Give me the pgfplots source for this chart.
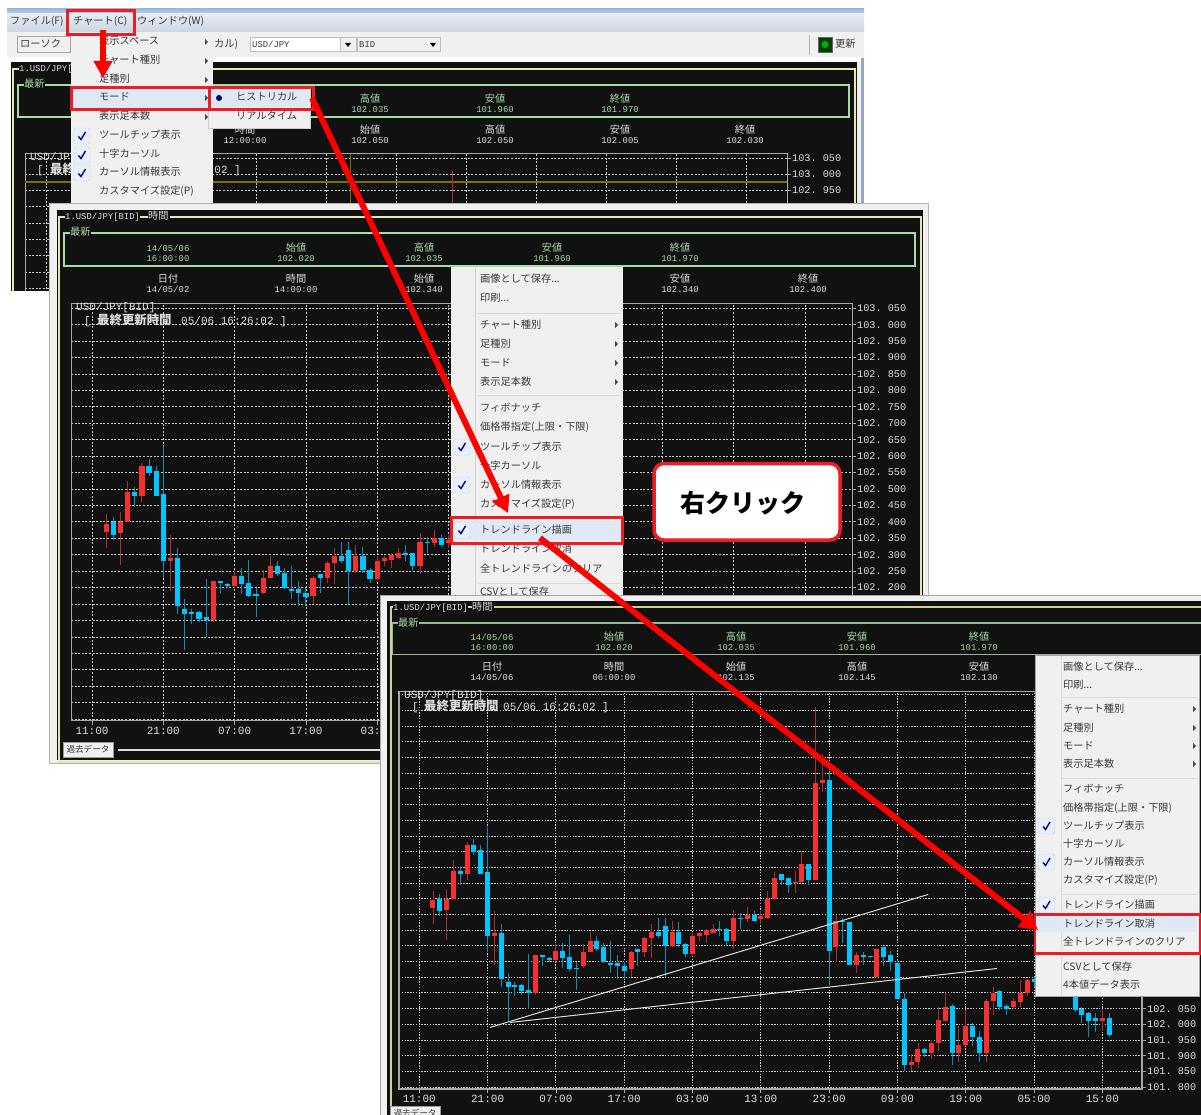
\documentclass[border=0pt]{standalone}
\usepackage{fontspec}
\usepackage{pgfplots}
\usepackage{pgfplotstable}
\pgfplotsset{compat=1.18}
\usetikzlibrary{arrows.meta}
\setmainfont{Liberation Sans}
\newfontfamily\jpfont{Noto Sans CJK JP}
\newfontfamily\monofont{Liberation Mono}
\newcommand{\jp}{\jpfont\fontsize{10.2}{12}\selectfont}
\newcommand{\jpb}{\jpfont\fontsize{12.4}{14}\selectfont\bfseries}
\newcommand{\jps}{\jpfont\fontsize{8.6}{10}\selectfont}
\newcommand{\dg}{\monofont\fontsize{8.9}{10}\selectfont}
\newcommand{\dgy}{\monofont\fontsize{10.2}{12}\selectfont}
\newcommand{\dgx}{\monofont\fontsize{11}{12}\selectfont}
\newcommand{\dd}{...}

\definecolor{bgk}{HTML}{111111}
\definecolor{chrome}{HTML}{F0F0F0}
\definecolor{palegreen}{HTML}{A6DCA6}
\definecolor{paleyel}{HTML}{E6E6B4}
\definecolor{txt}{HTML}{DDDDDD}
\definecolor{framec}{HTML}{A8A8A8}
\definecolor{gridc}{HTML}{C8C8C8}
\definecolor{cred}{HTML}{F5302F}
\definecolor{cblue}{HTML}{00C6FF}
\definecolor{wred}{HTML}{A83030}
\definecolor{wblue}{HTML}{0F8FB5}
\definecolor{boxred}{HTML}{EE1C25}
\definecolor{hilite}{HTML}{DFE9F6}
\definecolor{chkf}{HTML}{E8F0FB}
\definecolor{chkd}{HTML}{BFD3EE}
\definecolor{olive}{HTML}{7A7012}
\definecolor{titlea}{HTML}{9DBBD8}
\definecolor{titleb}{HTML}{E6ECF5}
\definecolor{titlec}{HTML}{CDD5E0}

% candles: hour index, high, body top, body bottom, low
\pgfplotstableread{
i hi top bot lo
0 102.425 102.395 102.37 102.32
2 102.43 102.40 102.365 102.27
3 102.525 102.49 102.40 102.40
5 102.58 102.57 102.48 102.46
9 102.36 102.29 102.28 102.19
15 102.22 102.22 102.10 102.095
18 102.255 102.235 102.205 102.20
22 102.255 102.23 102.185 102.18
23 102.295 102.265 102.23 102.23
29 102.235 102.23 102.175 102.15
31 102.28 102.275 102.23 102.215
32 102.32 102.295 102.275 102.21
35 102.33 102.295 102.25 102.245
38 102.295 102.28 102.225 102.22
39 102.295 102.29 102.28 102.265
40 102.305 102.30 102.285 102.26
41 102.32 102.305 102.29 102.29
44 102.365 102.34 102.265 102.24
46 102.375 102.35 102.335 102.325
48 102.36 102.345 102.335 102.32
49 102.425 102.40 102.34 102.335
50 102.485 102.465 102.40 102.40
53 102.49 102.455 102.45 102.42
54 102.55 102.51 102.455 102.455
56 103.01 102.77 102.46 102.46
57 102.86 102.78 102.77 102.74
59 102.35 102.33 102.245 102.20
62 102.23 102.22 102.19 102.165
65 102.24 102.24 102.15 102.15
70 101.905 101.88 101.87 101.85
71 101.94 101.92 101.88 101.86
73 101.95 101.94 101.91 101.89
74 102.055 102.015 101.94 101.915
75 102.10 102.055 102.01 102.01
77 101.995 101.935 101.91 101.88
78 102.045 101.995 101.935 101.93
81 102.08 102.075 101.91 101.88
82 102.12 102.10 102.075 102.03
85 102.085 102.075 102.055 102.05
86 102.14 102.10 102.07 102.055
87 102.145 102.14 102.10 102.09
98 102.05 102.02 102.01 101.98
}\redc
\pgfplotstableread{
i hi top bot lo
1 102.415 102.40 102.36 102.345
4 102.505 102.49 102.48 102.445
6 102.59 102.57 102.55 102.54
7 102.57 102.555 102.48 102.48
8 102.63 102.485 102.28 102.23
10 102.32 102.29 102.145 102.12
11 102.165 102.135 102.12 102.01
12 102.135 102.125 102.12 102.09
13 102.13 102.125 102.105 102.095
14 102.225 102.11 102.10 102.05
16 102.22 102.22 102.215 102.185
17 102.215 102.21 102.205 102.20
19 102.26 102.235 102.21 102.18
20 102.285 102.215 102.175 102.17
21 102.20 102.18 102.175 102.11
24 102.28 102.265 102.24 102.235
25 102.26 102.245 102.20 102.195
26 102.265 102.195 102.19 102.165
27 102.22 102.195 102.185 102.145
28 102.20 102.185 102.17 102.145
30 102.24 102.24 102.23 102.185
33 102.34 102.295 102.28 102.275
34 102.34 102.315 102.25 102.15
36 102.325 102.295 102.255 102.245
37 102.26 102.255 102.225 102.215
42 102.33 102.305 102.30 102.28
43 102.306 102.305 102.265 102.25
45 102.355 102.34 102.335 102.305
47 102.36 102.35 102.33 102.325
51 102.48 102.478 102.46 102.445
52 102.465 102.465 102.445 102.42
55 102.51 102.51 102.46 102.445
58 102.805 102.78 102.235 102.125
60 102.34 102.33 102.325 102.26
61 102.325 102.325 102.19 102.19
63 102.23 102.22 102.215 102.19
64 102.217 102.217 102.215 102.213
66 102.245 102.245 102.215 102.185
67 102.235 102.22 102.20 102.17
68 102.205 102.195 102.08 102.08
69 102.10 102.08 101.87 101.85
72 101.925 101.92 101.91 101.895
76 102.065 102.06 101.91 101.87
79 102.005 101.995 101.96 101.93
80 101.98 101.96 101.91 101.88
83 102.11 102.105 102.055 102.045
84 102.065 102.06 102.05 102.03
88 102.15 102.143 102.135 102.12
94 102.13 102.12 102.045 102.04
95 102.055 102.05 102.03 102.005
96 102.04 102.035 102.01 101.96
97 102.035 102.02 102.01 101.975
99 102.035 102.02 101.965 101.96
}\bluec

\pgfplotsset{
  chart/.style={
    scale only axis, clip=true, scaled ticks=false,
    axis line style={draw=framec,line width=1pt},
    grid=major,
    grid style={draw=gridc,line width=0.8pt,dash pattern=on 2pt off 1.6pt},
    xtick={-2,8,18,28,38,48,58,68,78,88,98},
    xticklabels={11:00,21:00,07:00,17:00,03:00,13:00,23:00,09:00,19:00,05:00,15:00},
    ytick={101.8,101.85,101.9,101.95,102,102.05,102.1,102.15,102.2,102.25,102.3,102.35,102.4,102.45,102.5,102.55,102.6,102.65,102.7,102.75,102.8,102.85,102.9,102.95,103,103.05},
    xtick pos=bottom, ytick pos=right, yticklabel pos=right,
    tick align=outside, major tick length=4pt,
    tick style={draw=framec,line width=0.8pt},
    yticklabel style={font=\dgy,text=txt,inner sep=1pt,
      /pgf/number format/.cd,fixed,fixed zerofill,precision=3,1000 sep={},dec sep={.\ },assume math mode=true},
    xticklabel style={font=\dgx,text=txt,inner sep=1pt,yshift=-1pt},
  },
}
\newcommand{\candles}[1]{%
  \addplot[draw=none,mark=none,forget plot,error bars/.cd,y dir=plus,y explicit,error mark=none,
    error bar style={draw=wred,line width=0.9pt}]
    table[x=i,y=lo,y error plus expr=\thisrow{hi}-\thisrow{lo}] {\redc};
  \addplot[draw=none,mark=none,forget plot,error bars/.cd,y dir=plus,y explicit,error mark=none,
    error bar style={draw=wblue,line width=0.9pt}]
    table[x=i,y=lo,y error plus expr=\thisrow{hi}-\thisrow{lo}] {\bluec};
  \addplot[draw=none,mark=none,forget plot,error bars/.cd,y dir=plus,y explicit,error mark=none,
    error bar style={draw=cred,line width=#1}]
    table[x=i,y=bot,y error plus expr=\thisrow{top}-\thisrow{bot}] {\redc};
  \addplot[draw=none,mark=none,forget plot,error bars/.cd,y dir=plus,y explicit,error mark=none,
    error bar style={draw=cblue,line width=#1}]
    table[x=i,y=bot,y error plus expr=\thisrow{top}-\thisrow{bot}] {\bluec};
}
\tikzset{
  mi/.style={anchor=west,inner sep=0pt,text height=8pt,text depth=2pt,font=\jp,text=black!78},
  hd/.style={anchor=center,inner sep=0pt,text height=7pt,text depth=2pt},
  lab/.style={anchor=west,inner sep=0pt,text height=8pt,text depth=2pt,text=txt},
  rbox/.style={draw=boxred,line width=3pt},
  bigarrow/.style={draw=red,fill=red,line width=6pt},
}
% header pair: centre x, y of first line, upper text, value, colour
\newcommand{\hdr}[5]{%
  \node[hd,text=#5] at (#1,#2) {#3};
  \node[hd,text=#5] at (#1,#2+10) {\dg #4};}
\newcommand{\sub}[2]{\fill[black!70] (#1,#2-3) -- (#1+3,#2) -- (#1,#2+3) -- cycle;}
\newcommand{\chk}[2]{%
  \draw[fill=chkf,draw=chkd,rounded corners=1.5pt] (#1-8,#2-8) rectangle (#1+8,#2+8);
  \draw[draw=blue!60!black,line width=1.4pt] (#1-3.5,#2+0.5) -- (#1-1,#2+3.5) -- (#1+3.5,#2-4);}

\begin{document}
\begin{tikzpicture}[x=1pt,y=-1pt]
\useasboundingbox (0,0) rectangle (1201,1115);
\clip (0,0) rectangle (1201,1115);
\fill[white] (0,0) rectangle (1201,1115);

% ---- window 1
\fill[chrome] (7,9) rectangle (864,291);
\shade[top color=titlea,bottom color=titlea!70!white] (7,9) rectangle (864,14);
\shade[top color=titleb,bottom color=titlec] (7,14) rectangle (864,32);
\fill[white] (7,57) rectangle (861,62);
\fill[white] (7,57) rectangle (11,291);
\fill[bgk] (11,62) rectangle (857,291);
\fill[titlea!70!gray] (861,58) rectangle (864,291);
\foreach \tx/\ty/\lb in {10/22/ファイル(F),73/22/チャート(C),137/22/ウィンドウ(W),214/45/カル),835/45/更新}
  {\node[mi] at (\tx,\ty) {\lb};}
\draw[black!35,fill=chrome] (17,36) rectangle (70,52);
\node[mi] at (20,45) {ローソク};
\draw[black!25,fill=white] (250,37) rectangle (340,51);
\draw[black!25,fill=chrome] (340,37) rectangle (356,51);
\draw[black!25,fill=chrome] (357,37) rectangle (440,51);
\node[mi,font=\dg] at (252,44.5) {USD/JPY};
\node[mi,font=\dg] at (359,44.5) {BID};
\fill[black] (345,43) -- (351,43) -- (348,47) -- cycle;
\fill[black] (430,43) -- (436,43) -- (433,47) -- cycle;
\draw[black!30] (809,35) -- (809,55);
\draw[black!60,fill=black!75!green] (818,37) rectangle (832,52);
\fill[green!70!black] (825,44.5) circle (3.5pt);
\draw[paleyel,line width=1.5pt] (13,69) rectangle (855,300);
\draw[palegreen,line width=1.5pt] (18,85) rectangle (849,117);
\node[lab,fill=bgk,font=\dg] at (19,69) {1.USD/JPY[BID]};
\node[lab,fill=bgk,font=\jp,text=palegreen] at (24,85) {最新};
\hdr{370}{100}{\jp 高値}{102.035}{palegreen}
\hdr{495}{100}{\jp 安値}{101.960}{palegreen}
\hdr{620}{100}{\jp 終値}{101.970}{palegreen}
\hdr{245}{131}{\jp 時間}{12:00:00}{txt}
\hdr{370}{131}{\jp 始値}{102.050}{txt}
\hdr{495}{131}{\jp 高値}{102.050}{txt}
\hdr{620}{131}{\jp 安値}{102.005}{txt}
\hdr{745}{131}{\jp 終値}{102.030}{txt}
\begin{axis}[chart,at={(25pt,-300pt)},anchor=south west,width=762pt,height=146pt,
  xmin=-5,xmax=103.86,ymin=102.614,ymax=103.062,xticklabels={},
  yticklabel={\ifdim\tick pt>102.92pt \pgfmathprintnumber{\tick}\fi}]
\addplot[olive,line width=1.4pt,forget plot] coordinates {(-5,102.976) (103.86,102.976)};
\addplot[olive,line width=1.4pt,forget plot] coordinates {(41.5,102.6) (41.5,103.062)};
\candles{5pt}
\end{axis}
\node[lab,font=\dgx] at (30,158) {USD/JPY[BID]};
\node[lab,font=\dgx] at (37,171) {[};
\node[lab,font=\jpb] at (50,171) {最終更新時間};
\node[lab,font=\dgx] at (135,171) {05/06 16:26:02 ]};
\fill[white] (0,291) rectangle (49,320);

% menu 1
\fill[chrome] (71,32) rectangle (213,210);
\fill[hilite] (72,88) rectangle (208,110);
\foreach \ty/\lb in {42/表示スペース,61/チャート種別,80/足種別,98/モード,117/表示足本数,136/ツールチップ表示,155/十字カーソル,173/カーソル情報表示,192/カスタマイズ設定(P)}
  {\node[mi] at (99,\ty) {\lb};}
\foreach \ty in {42,61,80,98,117} {\sub{205}{\ty}}
\foreach \ty in {136,155,173} {\chk{82}{\ty}}
\fill[chrome] (208,88) rectangle (310,128);
\draw[black!20] (208,88) rectangle (310,128);
\fill[hilite] (209,89) rectangle (309,107);
\fill[blue!55!black] (219,98) circle (3pt);
\node[mi] at (236,98) {ヒストリカル};
\node[mi] at (236,117) {リアルタイム};

% ---- window 2
\fill[chrome] (49,203) rectangle (928,763);
\draw[black!30] (49,203) rectangle (928,763);
\fill[bgk] (57,210) rectangle (923,760);
\draw[paleyel,line width=1.5pt] (59,217) rectangle (921,762);
\draw[palegreen,line width=1.5pt] (64,233) rectangle (915,266);
\node[lab,fill=bgk,font=\dg] at (65,217) {1.USD/JPY[BID]};
\node[lab,fill=bgk,font=\jp] at (148,217) {時間\,};
\node[lab,fill=bgk,font=\jp,text=palegreen] at (70,233) {最新};
\hdr{168}{249}{\dg 14/05/06}{16:00:00}{palegreen}
\hdr{296}{249}{\jp 始値}{102.020}{palegreen}
\hdr{424}{249}{\jp 高値}{102.035}{palegreen}
\hdr{552}{249}{\jp 安値}{101.960}{palegreen}
\hdr{680}{249}{\jp 終値}{101.970}{palegreen}
\hdr{168}{280}{\jp 日付}{14/05/02}{txt}
\hdr{296}{280}{\jp 時間}{14:00:00}{txt}
\hdr{424}{280}{\jp 始値}{102.340}{txt}
\hdr{680}{280}{\jp 安値}{102.340}{txt}
\hdr{808}{280}{\jp 終値}{102.400}{txt}
\begin{axis}[chart,at={(71pt,-720.7pt)},anchor=south west,width=781pt,height=416.7pt,
  xmin=-4.95,xmax=104.6,ymin=101.795,ymax=103.063,
  xticklabels={11:00,21:00,07:00,17:00,03:00,,,,,,},
  yticklabel={\ifdim\tick pt>102.18pt \pgfmathprintnumber{\tick}\fi}]
\candles{5.2pt}
\end{axis}
\node[lab,font=\dgx] at (76,307.5) {USD/JPY[BID]};
\node[lab,font=\dgx] at (84,321) {[};
\node[lab,font=\jpb] at (97,321) {最終更新時間};
\node[lab,font=\dgx] at (181,321) {05/06 16:26:02 ]};
\draw[black!40,fill=chrome] (63,742) rectangle (113,757);
\node[mi,font=\jps,anchor=center] at (88,749.5) {過去データ};
\fill[txt] (118,749) rectangle (400,751);

% menu 2
\fill[chrome] (450.5,267) rectangle (622.5,596);
\draw[black!18] (475.5,267) -- (475.5,596);
\fill[hilite] (452,521) rectangle (621,540);
\foreach \ty/\lb in {279/画像として保存\dd,298/印刷\dd,325/チャート種別,344/足種別,363/モード,382/表示足本数,408/フィボナッチ,427/価格帯指定(上限・下限),447/ツールチップ表示,466/十字カーソル,485/カーソル情報表示,504/カスタマイズ設定(P),530/トレンドライン描画,549/トレンドライン取消,569/全トレンドラインのクリア,592/CSVとして保存}
  {\node[mi] at (480,\ty) {\lb};}
\foreach \ty in {313,395,583} {\draw[black!15] (478,\ty) -- (620,\ty);}
\foreach \ty in {325,344,363,382} {\sub{615}{\ty}}
\foreach \ty in {447,485,530} {\chk{462}{\ty}}

% callout
\draw[draw=boxred,fill=white,line width=3.5pt,rounded corners=10pt] (654,463.5) rectangle (840,540);
\node[inner sep=0pt,font=\jpfont\fontsize{25}{28}\selectfont\bfseries,text=black] at (742.5,503) {右クリック};

% ---- window 3
\fill[chrome] (380,595) rectangle (1201,1115);
\draw[black!35] (380,595) -- (1201,595);
\draw[black!35] (380,595) -- (380,1115);
\fill[bgk] (387,601) rectangle (1201,1115);
\draw[paleyel!90!black,line width=1.5pt] (391,607) rectangle (1210,1130);
\draw[palegreen!85!black,line width=1.5pt] (392.5,623) rectangle (1210,654.5);
\node[lab,fill=bgk,font=\dg] at (393,607) {1.USD/JPY[BID]};
\node[lab,fill=bgk,font=\jp] at (472,607) {時間\,};
\node[lab,fill=bgk,font=\jp,text=palegreen] at (398,623) {最新};
\hdr{492}{638}{\dg 14/05/06}{16:00:00}{palegreen}
\hdr{614}{638}{\jp 始値}{102.020}{palegreen}
\hdr{736}{638}{\jp 高値}{102.035}{palegreen}
\hdr{857}{638}{\jp 安値}{101.960}{palegreen}
\hdr{979}{638}{\jp 終値}{101.970}{palegreen}
\hdr{492}{668}{\jp 日付}{14/05/06}{txt}
\hdr{614}{668}{\jp 時間}{06:00:00}{txt}
\hdr{736}{668}{\jp 始値}{102.135}{txt}
\hdr{857}{668}{\jp 高値}{102.145}{txt}
\hdr{979}{668}{\jp 安値}{102.130}{txt}
\begin{axis}[chart,at={(399pt,-1089pt)},anchor=south west,width=743pt,height=397.3pt,
  xmin=-4.97,xmax=103.8,ymin=101.794,ymax=103.06,
  grid style={draw=gridc,line width=1pt,dash pattern=on 1.4pt off 1.4pt},
  axis line style={draw=framec,line width=1.4pt},
  yticklabel={\ifdim\tick pt<102.07pt \pgfmathprintnumber{\tick}\fi}]
\candles{5pt}
% trend lines
\addplot[draw=txt,line width=1pt,forget plot] coordinates {(8.35,101.99) (72.5,102.414)};
\addplot[draw=txt,line width=1pt,forget plot] coordinates {(11.28,102.006) (82.54,102.178)};
\end{axis}
\node[lab,font=\dgx] at (404,695) {USD/JPY[BID]};
\node[lab,font=\dgx] at (412,707) {[};
\node[lab,font=\jpb] at (424,707) {最終更新時間};
\node[lab,font=\dgx] at (503,707) {05/06 16:26:02 ]};
\draw[black!40,fill=chrome] (390,1106) rectangle (440,1125);
\node[mi,font=\jps,anchor=center] at (415,1113) {過去データ};

% menu 3
\fill[chrome] (1035.5,655.5) rectangle (1199,996.5);
\draw[black!35] (1035.5,655.5) rectangle (1199,996.5);
\draw[black!14] (1061,656) -- (1061,996);
\fill[hilite] (1037,917) rectangle (1197,932);
\foreach \ty/\lb in {667/画像として保存\dd,685/印刷\dd,709/チャート種別,728/足種別,746/モード,764/表示足本数,789/フィボナッチ,808/価格帯指定(上限・下限),826/ツールチップ表示,844/十字カーソル,862/カーソル情報表示,880.6/カスタマイズ設定(P),905/トレンドライン描画,924/トレンドライン取消,942/全トレンドラインのクリア,967/CSVとして保存,985/4本値データ表示}
  {\node[mi] at (1063,\ty) {\lb};}
\foreach \ty in {697,778,894,955} {\draw[black!14] (1062,\ty) -- (1197,\ty);}
\foreach \ty in {709,728,746,764} {\sub{1193}{\ty}}
\foreach \ty in {826,862,905} {\chk{1046.5}{\ty}}

% ---- red boxes and arrows on top
\draw[rbox] (67,11) rectangle (134,34.5);
\draw[rbox] (71,87.5) rectangle (209.5,109.5);
\draw[rbox] (209.5,87.5) rectangle (313,109.5);
\draw[rbox] (451.5,517.5) rectangle (622.5,543.5);
\draw[rbox,line width=2.6pt] (1035,914.5) rectangle (1200.5,953.5);
\draw[bigarrow,-{Triangle[length=17pt,width=18pt]}] (103,30) -- (103,78);
\draw[bigarrow,-{Triangle[length=17pt,width=18pt]}] (312,98) -- (508,513);
\draw[bigarrow,-{Triangle[length=18pt,width=20pt]}] (540,538) -- (1038,930);
\end{tikzpicture}
\end{document}
